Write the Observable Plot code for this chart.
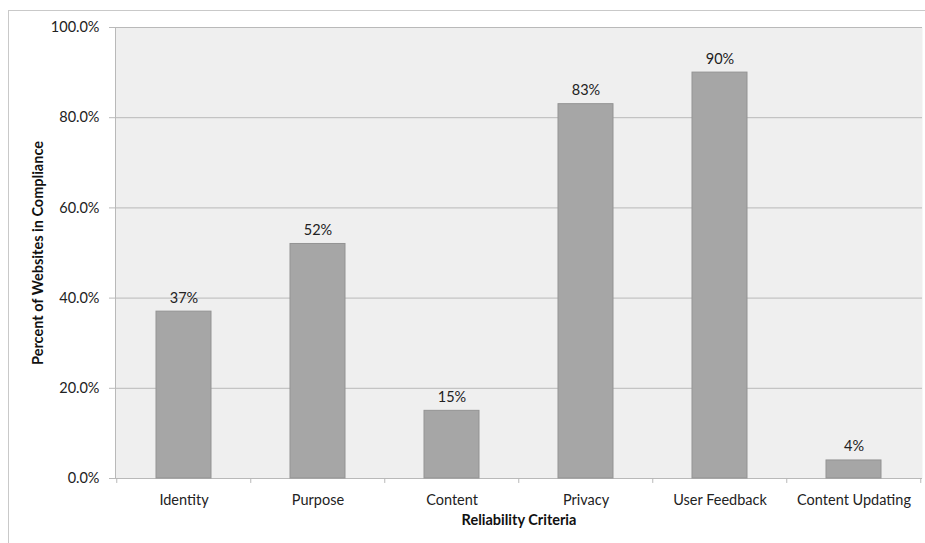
<!DOCTYPE html>
<html>
<head>
<meta charset="utf-8">
<script src="https://cdn.jsdelivr.net/npm/d3@7"></script>
<script src="https://cdn.jsdelivr.net/npm/@observablehq/plot@0.6"></script>
<style>
  html, body { margin: 0; padding: 0; background: #fff; }
  #wrap { position: relative; width: 925px; height: 543px; overflow: hidden; }
  #frame { position: absolute; left: 8px; top: 10px; width: 930px; height: 560px;
           border-left: 1px solid #c9c9c9; border-top: 1px solid #c9c9c9; }
  #chart { position: absolute; left: 0; top: 0; }
</style>
</head>
<body>
<div id="wrap"><div id="frame"></div><div id="chart"></div></div>
<script>
const categories = ["Identity", "Purpose", "Content", "Privacy", "User Feedback", "Content Updating"];
const values = [0.37, 0.52, 0.15, 0.83, 0.90, 0.04];
const yTicks = [0, 0.2, 0.4, 0.6, 0.8, 1.0];
const xTitle = "Reliability Criteria";
const yTitle = "Percent of Websites in Compliance";

const data = categories.map((c, i) => ({category: c, value: values[i]}));

const W = 925, H = 543;
const mL = 115, mR = 3, mT = 27, mB = 65;
const step = (W - mL - mR) / categories.length;
const font = "Lato, 'Open Sans', sans-serif";
const fs = 14.5;

const chart = Plot.plot({
  width: W, height: H,
  marginLeft: mL, marginRight: mR, marginTop: mT, marginBottom: mB,
  style: {fontFamily: font, fontSize: fs + "px", color: "#222", background: "transparent"},
  x: {type: "band", domain: categories, paddingInner: 0.59, paddingOuter: 0.295, axis: null},
  y: {domain: [0, 1], axis: null},
  marks: [
    Plot.frame({fill: "#efefef", stroke: null}),
    Plot.ruleY(yTicks, {stroke: "#b9b9b9", strokeWidth: 1}),
    Plot.frame({anchor: "left", stroke: "#b9b9b9"}),
    Plot.barY(data, {x: "category", y: "value", fill: "#a6a6a6", stroke: "#939393", strokeWidth: 1}),
    Plot.text(data, {x: "category", y: "value", text: d => d3.format(".0%")(d.value),
      lineAnchor: "bottom", dy: -9, fill: "#222", fontSize: fs}),
    // boundary ticks on x axis
    Plot.ruleX(categories, {x: d => d, dx: -step / 2, y1: 0, y2: -0.011, stroke: "#b9b9b9"}),
    Plot.ruleX([categories[categories.length - 1]], {x: d => d, dx: step / 2 - 0.5, y1: 0, y2: -0.011, stroke: "#b9b9b9"}),
    Plot.axisY({ticks: yTicks, tickFormat: d3.format(".1%"), tickSize: 6, tickPadding: 10,
      stroke: "#b9b9b9", fill: "#222", label: null, fontSize: fs}),
    Plot.axisX({tickSize: 0, tickPadding: 16, fill: "#222", label: null, fontSize: fs}),
    Plot.text([xTitle], {frameAnchor: "bottom", textAnchor: "middle", dy: 46, fontWeight: "bold", fontSize: fs, fill: "#111"}),
    Plot.text([yTitle], {frameAnchor: "left", textAnchor: "middle", dx: -77, rotate: -90, fontWeight: "bold", fontSize: fs, fill: "#111"})
  ]
});
document.getElementById("chart").appendChild(chart);
</script>
</body>
</html>
